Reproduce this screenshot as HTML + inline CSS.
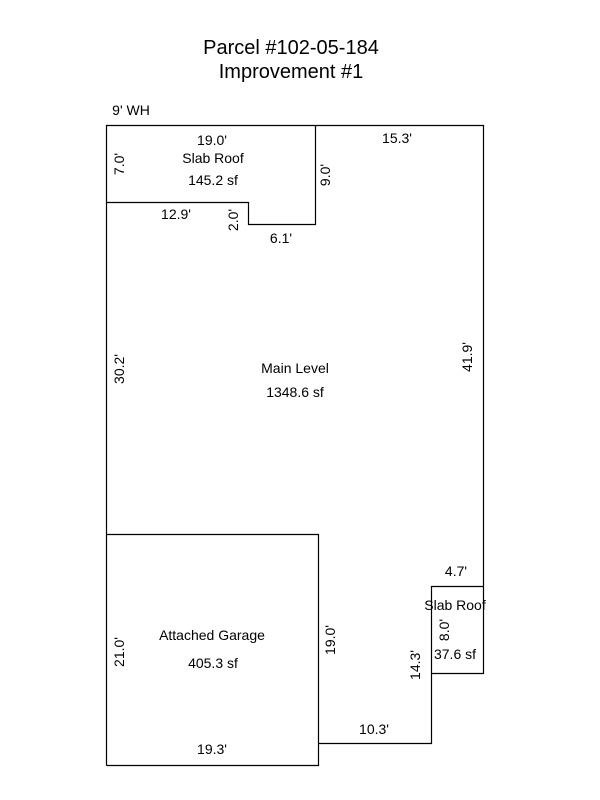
<!DOCTYPE html>
<html><head><meta charset="utf-8"><style>
html,body{margin:0;padding:0;background:#fff;}
svg{display:block;}
text{font-family:"Liberation Sans",Arial,sans-serif;fill:#000;}
</style></head><body>
<svg width="600" height="800" viewBox="0 0 600 800">
<g font-size="20" text-anchor="middle">
<text x="291" y="54">Parcel #102-05-184</text>
<text x="291" y="78">Improvement #1</text>
</g>
<g fill="none" stroke="#000" stroke-width="1.2">
<polyline points="106.5,765.5 106.5,125.5 483.5,125.5 483.5,674"/>
<polyline points="106.5,202.5 248.5,202.5 248.5,224.5 315.5,224.5 315.5,125.5"/>
<polyline points="106.5,534.5 318.5,534.5 318.5,765.5 106.5,765.5"/>
<polyline points="318.5,743.5 431.5,743.5 431.5,586.5 483.5,586.5"/>
<line x1="431.5" y1="673.5" x2="483.5" y2="673.5"/>
</g>
<g font-size="14" text-anchor="middle">
<text x="131" y="115">9' WH</text>
<text x="212" y="145">19.0'</text>
<text x="213" y="163">Slab Roof</text>
<text x="213" y="185">145.2 sf</text>
<text x="397" y="143">15.3'</text>
<text x="176" y="219">12.9'</text>
<text x="281" y="243">6.1'</text>
<text x="295" y="373">Main Level</text>
<text x="295" y="397">1348.6 sf</text>
<text x="456" y="576">4.7'</text>
<text x="455" y="610">Slab Roof</text>
<text x="455" y="659">37.6 sf</text>
<text x="212" y="640">Attached Garage</text>
<text x="213" y="668">405.3 sf</text>
<text x="374" y="734">10.3'</text>
<text x="212" y="754">19.3'</text>
</g>
<g font-size="14" text-anchor="middle">
<text transform="translate(124,164) rotate(-90)">7.0'</text>
<text transform="translate(330,175) rotate(-90)">9.0'</text>
<text transform="translate(238,220) rotate(-90)">2.0'</text>
<text transform="translate(124,369) rotate(-90)">30.2'</text>
<text transform="translate(472,357) rotate(-90)">41.9'</text>
<text transform="translate(124,652) rotate(-90)">21.0'</text>
<text transform="translate(335,640) rotate(-90)">19.0'</text>
<text transform="translate(449,630) rotate(-90)">8.0'</text>
<text transform="translate(420,665) rotate(-90)">14.3'</text>
</g>
</svg>
</body></html>
